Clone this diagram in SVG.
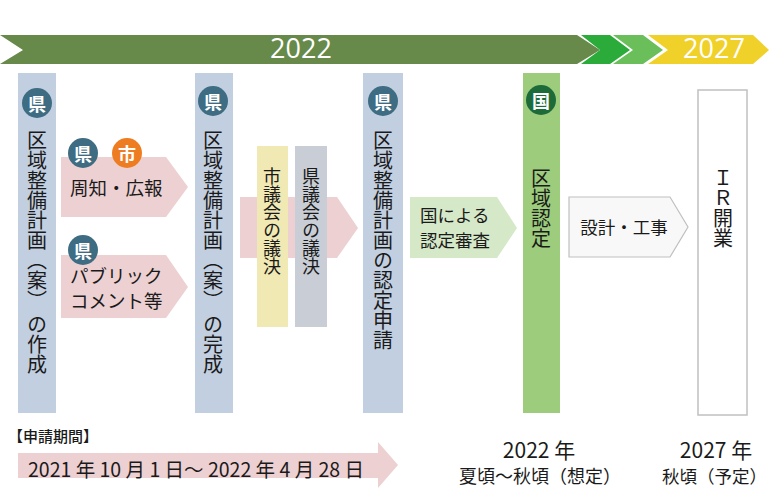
<svg xmlns="http://www.w3.org/2000/svg" width="769" height="488" viewBox="0 0 769 488">
<style>
text{font-family:"Noto Sans CJK JP","Noto Sans",sans-serif;fill:#1a1a1a}
.col{fill:#c2cfe0}
.pink{fill:#ecd0d2}
.vt{writing-mode:vertical-rl;font-size:20px}
.vs{writing-mode:vertical-rl;font-size:18px}
.lbl{font-size:17.5px}
.lbl2{font-size:18.5px}
.bw{fill:#fff;font-size:18px;font-weight:bold;text-anchor:middle;dominant-baseline:central}
.ban{fill:#fff;font-size:27px;text-anchor:middle;font-family:"Open Sans","Noto Sans",sans-serif}
</style>
<defs>
<g id="ken"><circle r="15" fill="#3e6c82"/><text class="bw" y="0">県</text></g>
</defs>
<g id="banner">
<polygon points="0,35 577,35 600,50 577,64 0,64 23,50" fill="#678a4a"/>
<polygon points="581,35 610,35 630,50 610,64 581,64 600,50" fill="#2aab3a"/>
<polygon points="613,35 643,35 663,50 643,64 613,64 633,50" fill="#6abf5a"/>
<polygon points="648,35 753,35 769,50 753,64 648,64 668,50" fill="#f0d12a"/>
<text class="ban" x="301" y="58">2022</text>
<text class="ban" x="714" y="58">2027</text>
</g>
<g id="connectors">
<polygon class="pink" points="61,157 166,157 188,187 166,217 61,217"/>
<polygon class="pink" points="61,255 166,255 188,287 166,318 61,318"/>
<polygon class="pink" points="240,197 337,197 358,228 337,258 240,258"/>
<polygon fill="#d5e8c8" points="410,197 497,197 517,228 497,258 410,258"/>
<polygon fill="#f8f8f8" stroke="#c0c0c0" stroke-width="1.2" points="569,197 670,197 688,227 670,257 569,257"/>
<polygon class="pink" points="18,453 378,453 378,442 398,465 378,488 378,478 18,478"/>
</g>
<g id="col1">
<rect class="col" x="18" y="73" width="38" height="340"/>
<use href="#ken" x="37" y="103"/>
<text class="vt" x="37" y="130">区域整備計画（案） の作成</text>
</g>
<g id="shuchi">
<use href="#ken" x="83" y="153"/>
<circle cx="127" cy="153" r="15" fill="#ee7d22"/><text class="bw" x="127" y="153">市</text>
<text class="lbl2" x="70" y="195">周知・広報</text>
</g>
<g id="public">
<use href="#ken" x="83" y="250"/>
<text class="lbl2" x="70" y="283">パブリック</text>
<text class="lbl2" x="70" y="308">コメント等</text>
</g>
<g id="col2">
<rect class="col" x="195" y="73" width="38" height="340"/>
<use href="#ken" x="213" y="101"/>
<text class="vt" x="213" y="130">区域整備計画（案） の完成</text>
</g>
<g id="shigikai">
<rect x="257" y="146" width="31" height="181" fill="#f1e9b3"/>
<text class="vs" x="272" y="167">市議会の議決</text>
</g>
<g id="kengikai">
<rect x="295" y="146" width="32" height="181" fill="#c9ced6"/>
<text class="vs" x="311" y="167">県議会の議決</text>
</g>
<g id="col3">
<rect class="col" x="363" y="73" width="40" height="340"/>
<use href="#ken" x="383" y="101"/>
<text class="vt" x="383" y="130">区域整備計画の認定申請</text>
</g>
<g id="shinsa">
<text class="lbl" x="420" y="222">国による</text>
<text class="lbl" x="420" y="247">認定審査</text>
</g>
<g id="col4">
<rect x="523" y="73" width="37" height="340" fill="#9ccc7c"/>
<circle cx="541" cy="100" r="15" fill="#1e6b3a"/><text class="bw" x="541" y="100">国</text>
<text class="vt" x="541" y="168">区域認定</text>
</g>
<g id="koji">
<text class="lbl" x="624" y="234" text-anchor="middle">設計・工事</text>
</g>
<g id="col5">
<rect x="698" y="90" width="49" height="325" fill="#fff" stroke="#c0c0c0" stroke-width="1.5"/>
<text class="vt" x="723" y="168">ＩＲ開業</text>
</g>
<g id="bottom">
<text x="8" y="442" font-size="15" font-weight="500">【申請期間】</text>
<text x="28" y="477" font-size="19.5">2021 年 10 月 1 日～ 2022 年 4 月 28 日</text>
<text x="539" y="458" font-size="21" text-anchor="middle">2022 年</text>
<text x="540" y="483" font-size="18" text-anchor="middle">夏頃～秋頃（想定）</text>
<text x="716" y="458" font-size="21" text-anchor="middle">2027 年</text>
<text x="767" y="483" font-size="17.5" text-anchor="end">秋頃（予定）</text>
</g>
</svg>
